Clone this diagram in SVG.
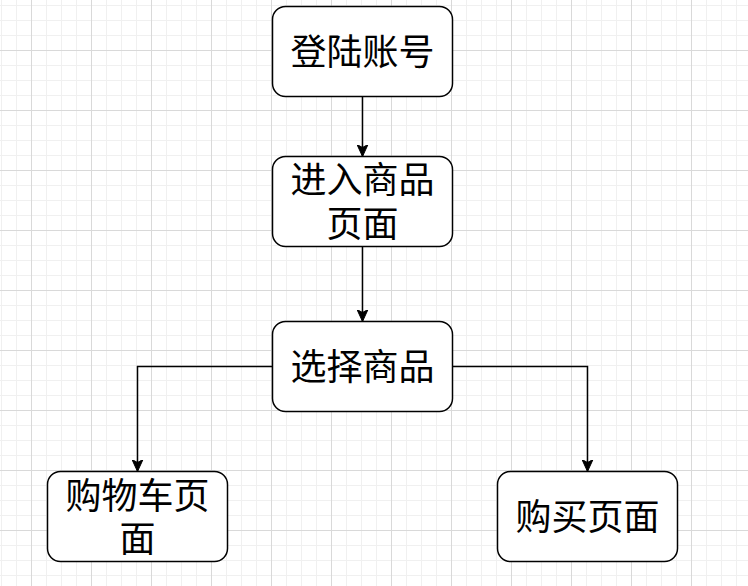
<svg xmlns="http://www.w3.org/2000/svg" width="748" height="586" viewBox="0 0 748 586">
  <style>
    .node rect { fill: #ffffff; stroke: #000000; stroke-width: 1.5; }
    .node text { font-family: "Microsoft YaHei", "Noto Sans CJK SC", "Noto Sans", sans-serif; font-size: 36px; fill: #000000; text-anchor: middle; }
    .edge { fill: none; stroke: #000000; stroke-width: 1.5; marker-end: url(#arrow); }
  </style>
  <defs>
    <pattern id="minor" patternUnits="userSpaceOnUse" x="1" y="5" width="15" height="15">
      <path d="M0.5,0 V15 M0,0.5 H15" fill="none" stroke="#f0f0f0" stroke-width="1"/>
    </pattern>
    <pattern id="major" patternUnits="userSpaceOnUse" x="31" y="50" width="60" height="60">
      <path d="M0.5,0 V60 M0,0.5 H60" fill="none" stroke="#d9d9d9" stroke-width="1"/>
    </pattern>
    <marker id="arrow" markerUnits="userSpaceOnUse" viewBox="0 0 12 12" refX="12" refY="6" markerWidth="12" markerHeight="12" orient="auto">
      <path d="M0,0.5 L12,6 L0,11.5 L3,6 Z" fill="#000000" stroke="#000000" stroke-width="1"/>
    </marker>
  </defs>
  <rect width="748" height="586" fill="#ffffff"/>
  <rect width="748" height="586" fill="url(#minor)"/>
  <rect width="748" height="586" fill="url(#major)"/>

  <g id="connectors">
    <path class="edge" d="M362.5,96.5 V156.5"/>
    <path class="edge" d="M362.5,246.5 V321.5"/>
    <path class="edge" d="M272.5,366.5 H137.5 V471.5"/>
    <path class="edge" d="M452.5,366.5 H587.5 V471.5"/>
  </g>

  <g id="node-login" class="node">
    <rect x="272.5" y="6.5" width="180" height="90" rx="13" ry="13"/>
    <text x="362.5" y="64.5">登陆账号</text>
  </g>
  <g id="node-enter" class="node">
    <rect x="272.5" y="156.5" width="180" height="90" rx="13" ry="13"/>
    <text x="362.5" y="193">进入商品<tspan x="362.5" dy="44">页面</tspan></text>
  </g>
  <g id="node-select" class="node">
    <rect x="272.5" y="321.5" width="180" height="90" rx="13" ry="13"/>
    <text x="362.5" y="379.5">选择商品</text>
  </g>
  <g id="node-cart" class="node">
    <rect x="47.5" y="471.5" width="180" height="90" rx="13" ry="13"/>
    <text x="137.5" y="509">购物车页<tspan x="137.5" dy="43">面</tspan></text>
  </g>
  <g id="node-buy" class="node">
    <rect x="497.5" y="471.5" width="180" height="90" rx="13" ry="13"/>
    <text x="587.5" y="529.5">购买页面</text>
  </g>
</svg>
